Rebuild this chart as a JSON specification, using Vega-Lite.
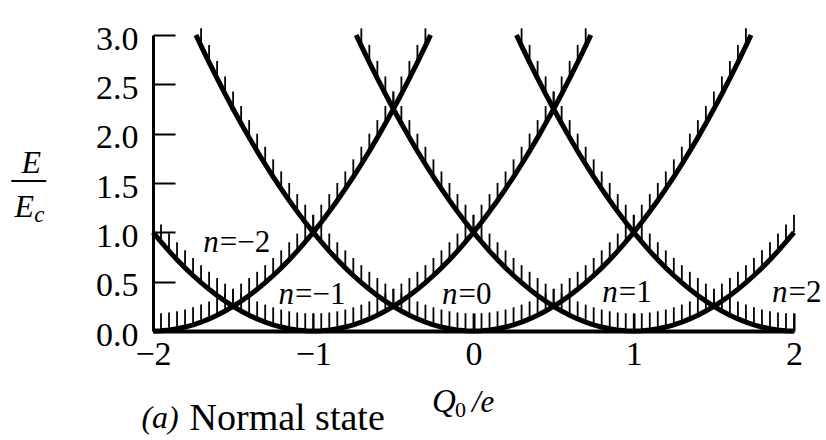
{
  "$schema": "https://vega.github.io/schema/vega-lite/v6.json",
  "width": 641,
  "height": 296,
  "autosize": {"type": "none"},
  "padding": {"left": 153, "top": 35, "right": 32, "bottom": 109},
  "background": "white",
  "config": {"view": {"stroke": null}},
  "datasets": {
    "levels": [
      {"q": -2.00, "-2": 0, "-1": 1},
      {"q": -1.95, "-2": 0.0025, "-1": 0.9025},
      {"q": -1.90, "-2": 0.01, "-1": 0.81},
      {"q": -1.85, "-2": 0.0225, "-1": 0.7225},
      {"q": -1.80, "-2": 0.04, "-1": 0.64},
      {"q": -1.75, "-2": 0.0625, "-1": 0.5625},
      {"q": -1.732, "0": 3},
      {"q": -1.70, "-2": 0.09, "-1": 0.49, "0": 2.89},
      {"q": -1.65, "-2": 0.1225, "-1": 0.4225, "0": 2.7225},
      {"q": -1.60, "-2": 0.16, "-1": 0.36, "0": 2.56},
      {"q": -1.55, "-2": 0.2025, "-1": 0.3025, "0": 2.4025},
      {"q": -1.50, "-2": 0.25, "-1": 0.25, "0": 2.25},
      {"q": -1.45, "-2": 0.3025, "-1": 0.2025, "0": 2.1025},
      {"q": -1.40, "-2": 0.36, "-1": 0.16, "0": 1.96},
      {"q": -1.35, "-2": 0.4225, "-1": 0.1225, "0": 1.8225},
      {"q": -1.30, "-2": 0.49, "-1": 0.09, "0": 1.69},
      {"q": -1.25, "-2": 0.5625, "-1": 0.0625, "0": 1.5625},
      {"q": -1.20, "-2": 0.64, "-1": 0.04, "0": 1.44},
      {"q": -1.15, "-2": 0.7225, "-1": 0.0225, "0": 1.3225},
      {"q": -1.10, "-2": 0.81, "-1": 0.01, "0": 1.21},
      {"q": -1.05, "-2": 0.9025, "-1": 0.0025, "0": 1.1025},
      {"q": -1.00, "-2": 1, "-1": 0, "0": 1},
      {"q": -0.95, "-2": 1.1025, "-1": 0.0025, "0": 0.9025},
      {"q": -0.90, "-2": 1.21, "-1": 0.01, "0": 0.81},
      {"q": -0.85, "-2": 1.3225, "-1": 0.0225, "0": 0.7225},
      {"q": -0.80, "-2": 1.44, "-1": 0.04, "0": 0.64},
      {"q": -0.75, "-2": 1.5625, "-1": 0.0625, "0": 0.5625},
      {"q": -0.732, "1": 3},
      {"q": -0.70, "-2": 1.69, "-1": 0.09, "0": 0.49, "1": 2.89},
      {"q": -0.65, "-2": 1.8225, "-1": 0.1225, "0": 0.4225, "1": 2.7225},
      {"q": -0.60, "-2": 1.96, "-1": 0.16, "0": 0.36, "1": 2.56},
      {"q": -0.55, "-2": 2.1025, "-1": 0.2025, "0": 0.3025, "1": 2.4025},
      {"q": -0.50, "-2": 2.25, "-1": 0.25, "0": 0.25, "1": 2.25},
      {"q": -0.45, "-2": 2.4025, "-1": 0.3025, "0": 0.2025, "1": 2.1025},
      {"q": -0.40, "-2": 2.56, "-1": 0.36, "0": 0.16, "1": 1.96},
      {"q": -0.35, "-2": 2.7225, "-1": 0.4225, "0": 0.1225, "1": 1.8225},
      {"q": -0.30, "-2": 2.89, "-1": 0.49, "0": 0.09, "1": 1.69},
      {"q": -0.268, "-2": 3},
      {"q": -0.25, "-1": 0.5625, "0": 0.0625, "1": 1.5625},
      {"q": -0.20, "-1": 0.64, "0": 0.04, "1": 1.44},
      {"q": -0.15, "-1": 0.7225, "0": 0.0225, "1": 1.3225},
      {"q": -0.10, "-1": 0.81, "0": 0.01, "1": 1.21},
      {"q": -0.05, "-1": 0.9025, "0": 0.0025, "1": 1.1025},
      {"q": 0.00, "-1": 1, "0": 0, "1": 1},
      {"q": 0.05, "-1": 1.1025, "0": 0.0025, "1": 0.9025},
      {"q": 0.10, "-1": 1.21, "0": 0.01, "1": 0.81},
      {"q": 0.15, "-1": 1.3225, "0": 0.0225, "1": 0.7225},
      {"q": 0.20, "-1": 1.44, "0": 0.04, "1": 0.64},
      {"q": 0.25, "-1": 1.5625, "0": 0.0625, "1": 0.5625},
      {"q": 0.268, "2": 3},
      {"q": 0.30, "-1": 1.69, "0": 0.09, "1": 0.49, "2": 2.89},
      {"q": 0.35, "-1": 1.8225, "0": 0.1225, "1": 0.4225, "2": 2.7225},
      {"q": 0.40, "-1": 1.96, "0": 0.16, "1": 0.36, "2": 2.56},
      {"q": 0.45, "-1": 2.1025, "0": 0.2025, "1": 0.3025, "2": 2.4025},
      {"q": 0.50, "-1": 2.25, "0": 0.25, "1": 0.25, "2": 2.25},
      {"q": 0.55, "-1": 2.4025, "0": 0.3025, "1": 0.2025, "2": 2.1025},
      {"q": 0.60, "-1": 2.56, "0": 0.36, "1": 0.16, "2": 1.96},
      {"q": 0.65, "-1": 2.7225, "0": 0.4225, "1": 0.1225, "2": 1.8225},
      {"q": 0.70, "-1": 2.89, "0": 0.49, "1": 0.09, "2": 1.69},
      {"q": 0.732, "-1": 3},
      {"q": 0.75, "0": 0.5625, "1": 0.0625, "2": 1.5625},
      {"q": 0.80, "0": 0.64, "1": 0.04, "2": 1.44},
      {"q": 0.85, "0": 0.7225, "1": 0.0225, "2": 1.3225},
      {"q": 0.90, "0": 0.81, "1": 0.01, "2": 1.21},
      {"q": 0.95, "0": 0.9025, "1": 0.0025, "2": 1.1025},
      {"q": 1.00, "0": 1, "1": 0, "2": 1},
      {"q": 1.05, "0": 1.1025, "1": 0.0025, "2": 0.9025},
      {"q": 1.10, "0": 1.21, "1": 0.01, "2": 0.81},
      {"q": 1.15, "0": 1.3225, "1": 0.0225, "2": 0.7225},
      {"q": 1.20, "0": 1.44, "1": 0.04, "2": 0.64},
      {"q": 1.25, "0": 1.5625, "1": 0.0625, "2": 0.5625},
      {"q": 1.30, "0": 1.69, "1": 0.09, "2": 0.49},
      {"q": 1.35, "0": 1.8225, "1": 0.1225, "2": 0.4225},
      {"q": 1.40, "0": 1.96, "1": 0.16, "2": 0.36},
      {"q": 1.45, "0": 2.1025, "1": 0.2025, "2": 0.3025},
      {"q": 1.50, "0": 2.25, "1": 0.25, "2": 0.25},
      {"q": 1.55, "0": 2.4025, "1": 0.3025, "2": 0.2025},
      {"q": 1.60, "0": 2.56, "1": 0.36, "2": 0.16},
      {"q": 1.65, "0": 2.7225, "1": 0.4225, "2": 0.1225},
      {"q": 1.70, "0": 2.89, "1": 0.49, "2": 0.09},
      {"q": 1.732, "0": 3},
      {"q": 1.75, "1": 0.5625, "2": 0.0625},
      {"q": 1.80, "1": 0.64, "2": 0.04},
      {"q": 1.85, "1": 0.7225, "2": 0.0225},
      {"q": 1.90, "1": 0.81, "2": 0.01},
      {"q": 1.95, "1": 0.9025, "2": 0.0025},
      {"q": 2.00, "1": 1, "2": 0}
    ],
    "labels": [
      {"n": -2, "q": -1.59, "E": 0.80, "t": "=−2"},
      {"n": -1, "q": -1.12, "E": 0.274, "t": "=−1"},
      {"n": 0, "q": -0.10, "E": 0.274, "t": "=0"},
      {"n": 1, "q": 0.90, "E": 0.294, "t": "=1"},
      {"n": 2, "q": 1.96, "E": 0.294, "t": "=2"}
    ],
    "one": [{}]
  },
  "layer": [
    {
      "data": {"name": "levels"},
      "transform": [
        {"fold": ["-2", "-1", "0", "1", "2"], "as": ["n", "E"]},
        {"filter": "isValid(datum.E)"}
      ],
      "mark": {"type": "line", "color": "black", "strokeWidth": 5, "clip": false},
      "encoding": {
        "x": {
          "field": "q", "type": "quantitative",
          "scale": {"domain": [-2, 2], "nice": false, "zero": false},
          "axis": {
            "title": null, "values": [-2, -1, 0, 1, 2], "format": "d", "grid": false,
            "domainColor": "black", "domainWidth": 4,
            "tickColor": "black", "tickWidth": 2, "tickSize": -18,
            "labelPadding": 24, "labelFont": "Liberation Serif", "labelFontSize": 34,
            "labelColor": "black", "labelFlush": false
          }
        },
        "y": {
          "field": "E", "type": "quantitative",
          "scale": {"domain": [0, 3], "nice": false},
          "axis": {
            "title": null, "values": [0, 0.5, 1, 1.5, 2, 2.5, 3], "format": ".1f", "grid": false,
            "domainColor": "black", "domainWidth": 3,
            "tickColor": "black", "tickWidth": 2, "tickSize": -22,
            "labelPadding": 37, "labelFont": "Liberation Serif", "labelFontSize": 34,
            "labelColor": "black", "labelOffset": 4, "labelFlush": false
          }
        },
        "detail": {"field": "n"}
      }
    },
    {
      "data": {"name": "levels"},
      "transform": [
        {"fold": ["-2", "-1", "0", "1", "2"], "as": ["n", "E"]},
        {"filter": "isValid(datum.E) && datum.E < 3"}
      ],
      "mark": {
        "type": "point", "shape": "M0,0L0,-1", "size": 1225, "filled": false,
        "color": "black", "strokeWidth": 1.8, "opacity": 1, "clip": false
      },
      "encoding": {
        "x": {"field": "q", "type": "quantitative"},
        "y": {"field": "E", "type": "quantitative"}
      }
    },
    {
      "data": {"name": "labels"},
      "mark": {"type": "text", "font": "Liberation Serif", "fontSize": 31, "fontStyle": "italic", "align": "right", "baseline": "alphabetic", "color": "black"},
      "encoding": {
        "x": {"field": "q", "type": "quantitative"},
        "y": {"field": "E", "type": "quantitative"},
        "text": {"value": "n"}
      }
    },
    {
      "data": {"name": "labels"},
      "mark": {"type": "text", "font": "Liberation Serif", "fontSize": 31, "align": "left", "baseline": "alphabetic", "dx": 1, "color": "black"},
      "encoding": {
        "x": {"field": "q", "type": "quantitative"},
        "y": {"field": "E", "type": "quantitative"},
        "text": {"field": "t"}
      }
    },
    {
      "data": {"name": "one"},
      "mark": {"type": "text", "font": "Liberation Serif", "fontSize": 32, "fontStyle": "italic", "align": "center", "baseline": "alphabetic", "color": "black", "clip": false},
      "encoding": {
        "x": {"datum": -2.759, "type": "quantitative"},
        "y": {"datum": 1.601, "type": "quantitative"},
        "text": {"value": "E"}
      }
    },
    {
      "data": {"name": "one"},
      "mark": {"type": "rule", "color": "black", "strokeWidth": 2, "clip": false},
      "encoding": {
        "x": {"datum": -2.884, "type": "quantitative"},
        "x2": {"datum": -2.666},
        "y": {"datum": 1.52, "type": "quantitative"}
      }
    },
    {
      "data": {"name": "one"},
      "mark": {"type": "text", "font": "Liberation Serif", "fontSize": 32, "fontStyle": "italic", "align": "center", "baseline": "alphabetic", "color": "black", "clip": false},
      "encoding": {
        "x": {"datum": -2.803, "type": "quantitative"},
        "y": {"datum": 1.155, "type": "quantitative"},
        "text": {"value": "E"}
      }
    },
    {
      "data": {"name": "one"},
      "mark": {"type": "text", "font": "Liberation Serif", "fontSize": 23, "fontStyle": "italic", "align": "left", "baseline": "alphabetic", "color": "black", "clip": false},
      "encoding": {
        "x": {"datum": -2.741, "type": "quantitative"},
        "y": {"datum": 1.105, "type": "quantitative"},
        "text": {"value": "c"}
      }
    },
    {
      "data": {"name": "one"},
      "mark": {"type": "text", "font": "Liberation Serif", "fontSize": 32, "fontStyle": "italic", "align": "left", "baseline": "alphabetic", "color": "black", "clip": false},
      "encoding": {
        "x": {"datum": -2.072, "type": "quantitative"},
        "y": {"datum": -0.983, "type": "quantitative"},
        "text": {"value": "(a)"}
      }
    },
    {
      "data": {"name": "one"},
      "mark": {"type": "text", "font": "Liberation Serif", "fontSize": 38, "align": "left", "baseline": "alphabetic", "color": "black", "clip": false},
      "encoding": {
        "x": {"datum": -1.772, "type": "quantitative"},
        "y": {"datum": -1.003, "type": "quantitative"},
        "text": {"value": "Normal state"}
      }
    },
    {
      "data": {"name": "one"},
      "mark": {"type": "text", "font": "Liberation Serif", "fontSize": 33, "fontStyle": "italic", "align": "left", "baseline": "alphabetic", "color": "black", "clip": false},
      "encoding": {
        "x": {"datum": -0.259, "type": "quantitative"},
        "y": {"datum": -0.821, "type": "quantitative"},
        "text": {"value": "Q"}
      }
    },
    {
      "data": {"name": "one"},
      "mark": {"type": "text", "font": "Liberation Serif", "fontSize": 22, "align": "left", "baseline": "alphabetic", "color": "black", "clip": false},
      "encoding": {
        "x": {"datum": -0.116, "type": "quantitative"},
        "y": {"datum": -0.872, "type": "quantitative"},
        "text": {"value": "0"}
      }
    },
    {
      "data": {"name": "one"},
      "mark": {"type": "text", "font": "Liberation Serif", "fontSize": 31, "fontStyle": "italic", "align": "left", "baseline": "alphabetic", "color": "black", "clip": false},
      "encoding": {
        "x": {"datum": -0.01, "type": "quantitative"},
        "y": {"datum": -0.821, "type": "quantitative"},
        "text": {"value": "/e"}
      }
    }
  ]
}
